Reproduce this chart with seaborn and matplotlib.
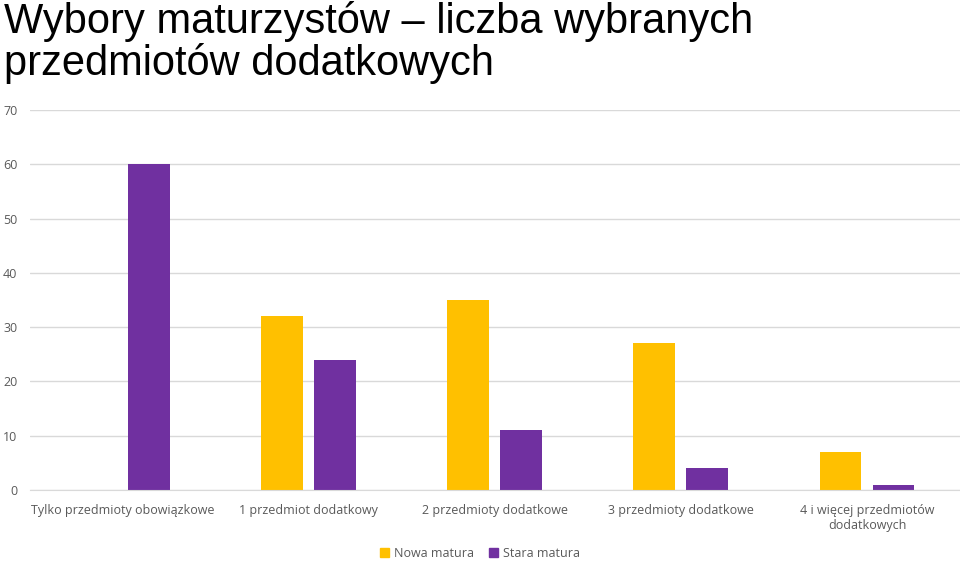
import numpy as np
import pandas as pd
import seaborn as sns
import matplotlib.pyplot as plt
from matplotlib.patches import Patch

# data
categories = ['Tylko przedmioty obowiązkowe', '1 przedmiot dodatkowy', '2 przedmioty dodatkowe',
              '3 przedmioty dodatkowe', '4 i więcej przedmiotów\ndodatkowych']
nowa = [0, 32, 35, 27, 7]
stara = [60, 24, 11, 4, 1]
series = ['Nowa matura', 'Stara matura']
colors = ['#FFC000', '#7030A0']

df = pd.DataFrame({
    'cat': categories * 2,
    'val': nowa + stara,
    'seria': [series[0]] * 5 + [series[1]] * 5,
})

sns.set_style('white')
plt.rcParams['font.family'] = ['Open Sans', 'DejaVu Sans']

fig = plt.figure(figsize=(9.6, 5.61), dpi=100)
ax = fig.add_axes([0.031, 0.1266, 0.969, 0.6774])
sns.barplot(data=df, x='cat', y='val', hue='seria', palette=colors, width=0.57, gap=0.21,
            ax=ax, legend=False, saturation=1, linewidth=0)

ax.set_xlim(-0.5, 4.5)
ax.set_ylim(0, 70)
ax.set_yticks(range(0, 71, 10))
ax.yaxis.grid(True, color='#D9D9D9', linewidth=1)
ax.set_axisbelow(True)
for s in ['top', 'right', 'left']:
    ax.spines[s].set_visible(False)
ax.spines['bottom'].set_color('#D9D9D9')
ax.tick_params(axis='both', length=0, labelsize=9, labelcolor='#595959')
ax.tick_params(axis='x', pad=10)
ax.tick_params(axis='y', pad=9)
ax.set_xlabel('')
ax.set_ylabel('')

fig.text(0.004, 0.998, 'Wybory maturzystów – liczba wybranych\nprzedmiotów dodatkowych',
         family='Liberation Sans', fontsize=30, color='black', va='top', ha='left',
         linespacing=1.02)

handles = [Patch(color=c, label=l) for c, l in zip(colors, series)]
fig.legend(handles=handles, loc='center', bbox_to_anchor=(0.5, 0.013), ncol=2, frameon=False,
           fontsize=9, labelcolor='#595959', handlelength=0.7, handleheight=0.7,
           handletextpad=0.4, columnspacing=1.2)

fig.savefig('out.png', dpi=100)
